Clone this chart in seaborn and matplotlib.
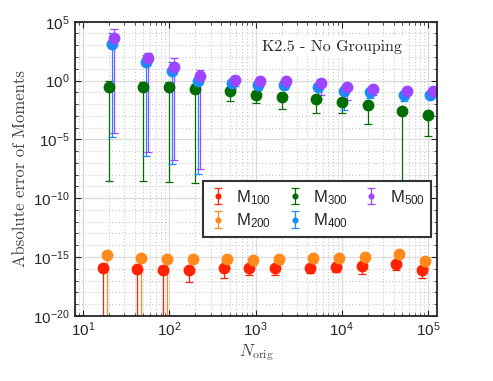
import numpy as np
import pandas as pd
import seaborn as sns
import matplotlib
matplotlib.use("Agg")
import matplotlib.pyplot as plt
from matplotlib.ticker import LogLocator, FixedLocator, NullFormatter, LogFormatterSciNotation

# N_orig values (one group per value)
n_orig = [20, 50, 100, 200, 500, 1000, 2000, 5000, 10000, 20000, 50000, 100000]

series_names = ["M100", "M200", "M300", "M400", "M500"]
legend_labels = ["M$_{100}$", "M$_{200}$", "M$_{300}$", "M$_{400}$", "M$_{500}$"]

# mean absolute error (marker)
m100_mean = [1.26e-16, 9.5e-17, 8.5e-17, 8.5e-17, 1.26e-16, 1.1e-16, 1.1e-16, 1.26e-16, 1.5e-16, 1.6e-16, 2.4e-16, 8.5e-17]
m200_mean = [1.5e-15, 7.8e-16, 6.3e-16, 6.3e-16, 6.3e-16, 5.6e-16, 6.3e-16, 7.8e-16, 8.7e-16, 1.07e-15, 1.8e-15, 4.6e-16]
m300_mean = [0.31, 0.31, 0.26, 0.195, 0.126, 0.065, 0.044, 0.025, 0.0145, 0.0076, 0.0025, 0.00107]
m400_mean = [1290, 35.5, 7.1, 0.83, 0.59, 0.46, 0.46, 0.31, 0.141, 0.102, 0.054, 0.062]
m500_mean = [3900, 78, 15.5, 2.6, 1.22, 0.93, 0.87, 0.59, 0.275, 0.195, 0.126, 0.126]

# upper end of error bar
m100_high = [2.4e-16, 1.6e-16, 1.4e-16, 1.4e-16, 2.0e-16, 1.8e-16, 1.8e-16, 2.0e-16, 2.4e-16, 2.5e-16, 3.5e-16, 1.4e-16]
m200_high = [3.5e-15, 1.26e-15, 1.0e-15, 1.0e-15, 1.0e-15, 8.9e-16, 1.0e-15, 1.26e-15, 1.4e-15, 1.6e-15, 2.8e-15, 7.1e-16]
m300_high = [1.0, 0.72, 0.72, 0.52, 0.25, 0.126, 0.079, 0.045, 0.025, 0.014, 0.0045, 0.0018]
m400_high = [11000, 158, 35.5, 1.7, 1.0, 0.79, 0.79, 0.5, 0.25, 0.178, 0.089, 0.1]
m500_high = [24000, 234, 78, 7.9, 2.0, 1.58, 1.41, 1.0, 0.45, 0.32, 0.2, 0.2]

# lower end of error bar (0 = mean - std below zero, bar runs off the axis)
m100_low = [0, 0, 0, 7e-18, 1.8e-17, 3e-17, 3e-17, 4.2e-17, 5e-17, 3.9e-17, 8e-17, 1.8e-17]
m200_low = [0, 0, 0, 3.2e-16, 1.1e-16, 2.1e-16, 2.5e-16, 3.2e-16, 4e-16, 4.5e-16, 8e-16, 1.1e-16]
m300_low = [3.0e-9, 3.0e-9, 2.5e-9, 2.1e-9, 0.020, 0.012, 0.0035, 0.0018, 0.0018, 1.9e-4, 3.5e-11, 1.8e-5]
m400_low = [1.6e-5, 3.6e-7, 7.6e-8, 1.07e-8, 0.24, 0.16, 0.178, 0.028, 0.0029, 0.032, 0.0166, 0.035]
m500_low = [3.7e-5, 7.9e-7, 1.66e-7, 2.9e-8, 0.32, 0.4, 0.4, 0.054, 0.023, 0.063, 0.063, 0.063]

colors = ["#FF2200", "#FF8A1A", "#006E00", "#1A8CFF", "#9E45FF"]
dodge = [0.85, 0.93, 1.0, 1.07, 1.14]

means = [m100_mean, m200_mean, m300_mean, m400_mean, m500_mean]
highs = [m100_high, m200_high, m300_high, m400_high, m500_high]
lows = [m100_low, m200_low, m300_low, m400_low, m500_low]

rows = []
for name, mu, hi, lo in zip(series_names, means, highs, lows):
    for n, a, b, c in zip(n_orig, mu, hi, lo):
        rows.append({"series": name, "N": n, "mean": a, "high": b, "low": c})
df = pd.DataFrame(rows)

sns.set_theme(style="ticks")
plt.rcParams["font.family"] = ["Liberation Sans", "DejaVu Sans"]
plt.rcParams["mathtext.fontset"] = "custom"
plt.rcParams["mathtext.rm"] = "Liberation Sans"
plt.rcParams["mathtext.it"] = "Liberation Sans:italic"

fig = plt.figure(figsize=(4.93, 3.81), dpi=100)
ax = fig.add_axes([0.152, 0.171, 0.734, 0.772])

handles = []
for name, col, f in zip(series_names, colors, dodge):
    d = df[df["series"] == name]
    x = d["N"].to_numpy() * f
    y = d["mean"].to_numpy()
    yerr = [y - d["low"].to_numpy(), d["high"].to_numpy() - y]
    h = ax.errorbar(x, y, yerr=yerr, fmt="o", color=col, ecolor=col, ms=7.5,
                    mec=col, elinewidth=0.9, capsize=3, capthick=0.9)
    handles.append(h)

ax.set_xscale("log")
ax.set_yscale("log")
ax.set_xlim(8, 1.27e5)
ax.set_ylim(1e-20, 1e5)

ax.xaxis.set_major_locator(LogLocator(base=10, numticks=10))
ax.xaxis.set_minor_locator(LogLocator(base=10, subs=np.arange(2, 10), numticks=50))
ax.xaxis.set_minor_formatter(NullFormatter())
ax.yaxis.set_major_locator(FixedLocator([10.0 ** k for k in range(-20, 6, 5)]))
ax.yaxis.set_minor_locator(FixedLocator([10.0 ** k for k in range(-20, 6) if k % 5]))
ax.yaxis.set_minor_formatter(NullFormatter())
ax.yaxis.set_major_formatter(LogFormatterSciNotation())

ax.grid(True, which="major", color="#dcdcdc", lw=0.9, ls="-")
ax.grid(True, which="minor", color="#c8c8c8", lw=0.8, ls=(0, (1, 2)))
ax.set_axisbelow(True)

ax.tick_params(which="both", direction="in", top=True, right=True,
               labelsize=11, colors="#262626")
ax.tick_params(which="major", length=4, width=0.8)
ax.tick_params(which="minor", length=2.5, width=0.6)
for s in ax.spines.values():
    s.set_linewidth(1.3)
    s.set_color("#262626")

ax.set_xlabel(r"$N_\mathrm{orig}$", fontsize=12, math_fontfamily="cm", color="#444444", labelpad=2)
ax.set_ylabel("Absolute error of Moments", fontsize=12, family="cmr10", color="#444444", labelpad=4)

ax.text(0.517, 0.914, "K2.5 - No Grouping", transform=ax.transAxes, family="cmr10",
        fontsize=11.5, ha="left", va="center",
        bbox=dict(facecolor="white", edgecolor="none", pad=3))

leg = ax.legend(handles, legend_labels, ncol=3, loc="upper left",
                bbox_to_anchor=(0.354, 0.458), borderaxespad=0, fontsize=12,
                markerscale=0.45, fancybox=False, framealpha=1, edgecolor="#333333",
                handlelength=1.0, handletextpad=0.6, columnspacing=0.9,
                labelspacing=0.3, borderpad=0.4)
leg.get_frame().set_linewidth(1.5)

fig.savefig("out.png", dpi=100)
